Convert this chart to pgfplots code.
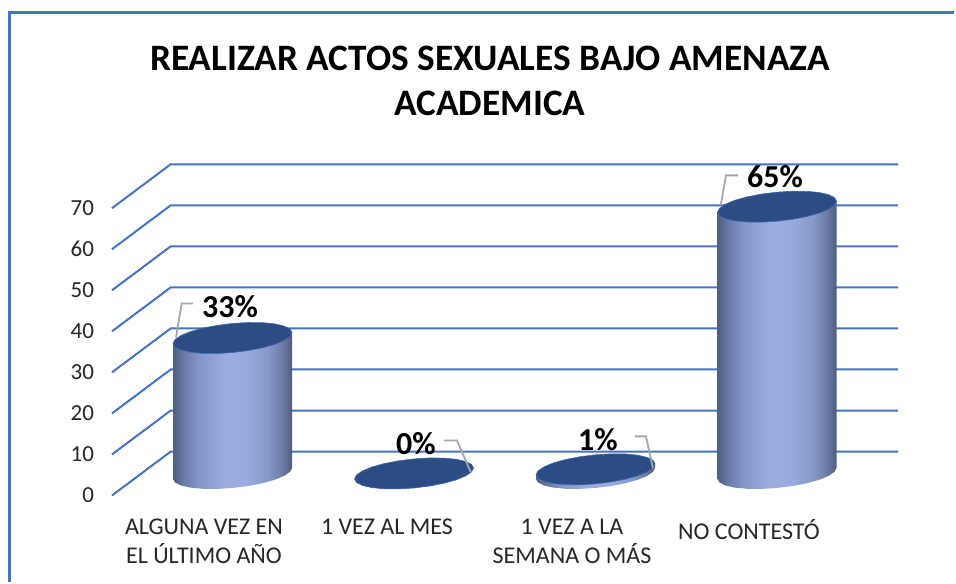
\documentclass[border=0pt]{standalone}
\usepackage{pgfplots}
\usepackage{pgfplotstable}
\usepackage{fontspec}
\setmainfont{Carlito}
\pgfplotsset{compat=1.18}
\definecolor{gridblue}{HTML}{4472C4}
\definecolor{topblue}{HTML}{2C4C84}
\definecolor{leader}{HTML}{A6A6A6}
\pgfdeclarehorizontalshading{cyl}{100bp}{
  rgb(0bp)=(0.31,0.37,0.50);
  rgb(25bp)=(0.31,0.37,0.50);
  rgb(30bp)=(0.42,0.49,0.67);
  rgb(36bp)=(0.52,0.59,0.79);
  rgb(47bp)=(0.61,0.68,0.88);
  rgb(56bp)=(0.60,0.67,0.87);
  rgb(65bp)=(0.52,0.60,0.79);
  rgb(71bp)=(0.42,0.48,0.64);
  rgb(75bp)=(0.31,0.36,0.48);
  rgb(100bp)=(0.31,0.36,0.48)}
% ellipse outline, in pixels across and value units up
\pgfplotstableread{
dx dy
59.5 1.34
57.5 2.21
51.5 2.93
42.1 3.45
29.75 3.74
15.4 3.77
0 3.54
-15.4 3.07
-29.75 2.40
-42.1 1.56
-51.5 0.61
-57.5 -0.38
-59.5 -1.34
-57.5 -2.21
-51.5 -2.93
-42.1 -3.45
-29.75 -3.74
-15.4 -3.77
0 -3.54
15.4 -3.07
29.75 -2.40
42.1 -1.56
51.5 -0.61
57.5 0.38
59.5 1.34
}\ellipsetab
% side surface: lower half at base (h=0), then straight up (h=1)
\pgfplotstableread{
dx dy h
-59.5 -1.34 0
-57.5 -2.21 0
-51.5 -2.93 0
-42.1 -3.45 0
-29.75 -3.74 0
-15.4 -3.77 0
0 -3.54 0
15.4 -3.07 0
29.75 -2.40 0
42.1 -1.56 0
51.5 -0.61 0
57.5 0.38 0
59.5 1.34 0
59.5 1.34 1
0 0 1
-59.5 -1.34 1
}\bodytab
\newcommand{\cyl}[2]{%
  \addplot[draw=none, shade, shading=cyl, forget plot]
    table[x expr=\thisrow{dx}+#1, y expr=\thisrow{dy}+5.37+\thisrow{h}*#2] {\bodytab} -- cycle;
  \addplot[draw=gridblue!70!topblue, line width=0.6pt, fill=topblue, forget plot]
    table[x expr=\thisrow{dx}+#1, y expr=\thisrow{dy}+5.37+#2] {\ellipsetab} -- cycle;
}
\newcommand{\gridl}[2]{%
  \addplot[gridblue, line width=2pt, forget plot] coordinates {(112,#1) (170.7,#2) (898,#2)};
}
\begin{document}
\begin{tikzpicture}
\begin{axis}[
  scale only axis, width=786pt, height=331.2pt,
  xmin=112, xmax=898, ymin=0, ymax=80.7,
  clip=false,
  axis line style={draw=none},
  major tick length=0pt,
  xtick={204,387,572,749},
  xticklabels={{ALGUNA VEZ EN\\EL ÚLTIMO AÑO},{1 VEZ AL MES},{1 VEZ A LA\\SEMANA O MÁS},{NO CONTESTÓ}},
  xticklabel style={align=center, font=\fontsize{24}{29}\selectfont, text=black!85, anchor=north, yshift=-20pt},
  ytick={0,10,20,30,40,50,60,70},
  yticklabel style={font=\fontsize{23}{25}\selectfont, text=black!85, anchor=east, xshift=-14.5pt, yshift=0pt},
  /pgf/number format/assume math mode=true,
]
% page extent and frame
\addplot[draw=none, forget plot] coordinates {(0,-21.46) (956,-21.46) (956,120.73) (0,120.73)} -- cycle;
\addplot[gridblue, line width=3.2pt, forget plot] coordinates {(9.5,-21.06) (9.5,117.7) (954.4,117.7)};
\gridl{0}{10.7}
\gridl{10}{20.7}
\gridl{20}{30.7}
\gridl{30}{40.7}
\gridl{40}{50.7}
\gridl{50}{60.7}
\gridl{60}{70.7}
\gridl{70}{80.7}
\cyl{232.5}{33}
\cyl{414}{0}
\cyl{595.5}{1}
\cyl{777}{65}
\addplot[leader, line width=1.8pt, forget plot] coordinates {(176,38.5) (181.7,46.8) (193,46.8)};
\addplot[leader, line width=1.8pt, forget plot] coordinates {(444,13.4) (457,13.4) (470.7,5.7)};
\addplot[leader, line width=1.8pt, forget plot] coordinates {(635,14.4) (646,14.4) (653,6.6)};
\addplot[leader, line width=1.8pt, forget plot] coordinates {(720.7,70.7) (726,78) (738,78)};
\node[font=\bfseries\fontsize{32}{34}\selectfont] at (axis cs:230,46.1) {33\%};
\node[font=\bfseries\fontsize{32}{34}\selectfont] at (axis cs:416,12.7) {0\%};
\node[font=\bfseries\fontsize{32}{34}\selectfont] at (axis cs:598,13.7) {1\%};
\node[font=\bfseries\fontsize{32}{34}\selectfont] at (axis cs:775,77.6) {65\%};
\node[font=\bfseries\fontsize{37.3}{45}\selectfont, align=center, anchor=center] at (axis cs:490,101.1) {REALIZAR ACTOS SEXUALES BAJO AMENAZA\\ACADEMICA};
\end{axis}
\end{tikzpicture}
\end{document}
